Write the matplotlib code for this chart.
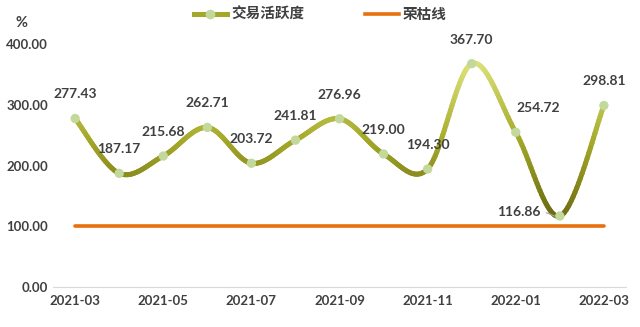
import numpy as np
import matplotlib.pyplot as plt
from matplotlib.collections import LineCollection
from matplotlib.colors import LinearSegmentedColormap
from matplotlib.lines import Line2D

plt.rcParams['font.family'] = ['Lato', 'Noto Sans CJK SC', 'DejaVu Sans']

months = ['2021-03', '2021-04', '2021-05', '2021-06', '2021-07', '2021-08', '2021-09',
          '2021-10', '2021-11', '2021-12', '2022-01', '2022-02', '2022-03']
activity = [277.43, 187.17, 215.68, 262.71, 203.72, 241.81, 276.96,
            219.00, 194.30, 367.70, 254.72, 116.86, 298.81]
baseline = [100.0] * len(months)
yticks = [0, 100, 200, 300, 400]

txt = '#404040'
x = np.arange(len(months))
y = np.array(activity)

# excel-like smooth line (catmull-rom bezier)
pts = np.column_stack([x, y]).astype(float)
ext = np.vstack([pts[0], pts, pts[-1]])
curve = []
t = np.linspace(0, 1, 30)[:, None]
for i in range(len(pts) - 1):
    p0, p1, p2, p3 = ext[i], ext[i + 1], ext[i + 2], ext[i + 3]
    c1 = p1 + (p2 - p0) / 6
    c2 = p2 - (p3 - p1) / 6
    seg = ((1 - t) ** 3) * p1 + 3 * ((1 - t) ** 2) * t * c1 + 3 * (1 - t) * t ** 2 * c2 + t ** 3 * p2
    curve.append(seg if i == 0 else seg[1:])
curve = np.vstack(curve)

fig = plt.figure(figsize=(6.4, 3.27), dpi=100)
ax = fig.add_axes([0.083, 0.1223, 0.895, 0.743])

ax.plot(x, baseline, color='#E8700E', lw=2.6, solid_capstyle='round', zorder=2)

cmap = LinearSegmentedColormap.from_list('olive', ['#6a6810', '#a4a828', '#dde27a'])
segs = np.stack([curve[:-1], curve[1:]], axis=1)
lc = LineCollection(segs, cmap=cmap, norm=plt.Normalize(110, 370), linewidths=3.6,
                    capstyle='round', zorder=3)
lc.set_array((curve[:-1, 1] + curve[1:, 1]) / 2)
ax.add_collection(lc)
ax.scatter(x, y, s=45, color='#c3d89b', edgecolors='none', zorder=4)

# data labels
for i, v in enumerate(activity):
    dx, dy, ha = 0, 13, 'center'
    if months[i] == '2022-01':
        dx = 16
    if months[i] == '2022-02':
        dx, dy, ha = -14, 3, 'right'
    ax.annotate(f'{v:.2f}', (i, v), xytext=(dx, dy), textcoords='offset points',
                ha=ha, va='bottom' if dy > 5 else 'center', fontsize=10, fontweight='bold',
                color=txt, zorder=5)
i = months.index('2022-02')
ax.annotate('', (i - 0.05, activity[i] - 2), xytext=(-10, 4), textcoords='offset points',
            arrowprops=dict(arrowstyle='-', color='#a6a6a6', lw=0.8))

ax.set_xlim(-0.5, 12.5)
ax.set_ylim(0, 400)
ax.set_yticks(yticks)
ax.set_yticklabels([f'{v:.2f}' for v in yticks])
ax.set_xticks(x[::2])
ax.set_xticklabels(months[::2])
for s in ['top', 'right', 'left']:
    ax.spines[s].set_visible(False)
ax.spines['bottom'].set_color('#d9d9d9')
ax.tick_params(length=0, labelcolor=txt, labelsize=9.5)
ax.tick_params(axis='x', pad=6)
for lab in ax.get_xticklabels() + ax.get_yticklabels():
    lab.set_fontweight('bold')

fig.text(0.034, 0.93, '%', ha='center', va='center', fontsize=10.5, fontweight='bold', color=txt)

handles = [Line2D([], [], color='#a4a828', lw=3.6, marker='o', markersize=7,
                  markerfacecolor='#c3d89b', markeredgecolor='none'),
           Line2D([], [], color='#E8700E', lw=2.6)]
leg = fig.legend(handles, ['交易活跃度', '荣枯线'], loc='center', bbox_to_anchor=(0.5, 0.958),
                 ncol=2, frameon=False, handlelength=2.3, columnspacing=4.2, handletextpad=0.25,
                 prop={'family': ['Noto Sans CJK SC'], 'weight': 'bold', 'size': 10.5})
for tx in leg.get_texts():
    tx.set_color(txt)

fig.savefig('out.png', dpi=100)
